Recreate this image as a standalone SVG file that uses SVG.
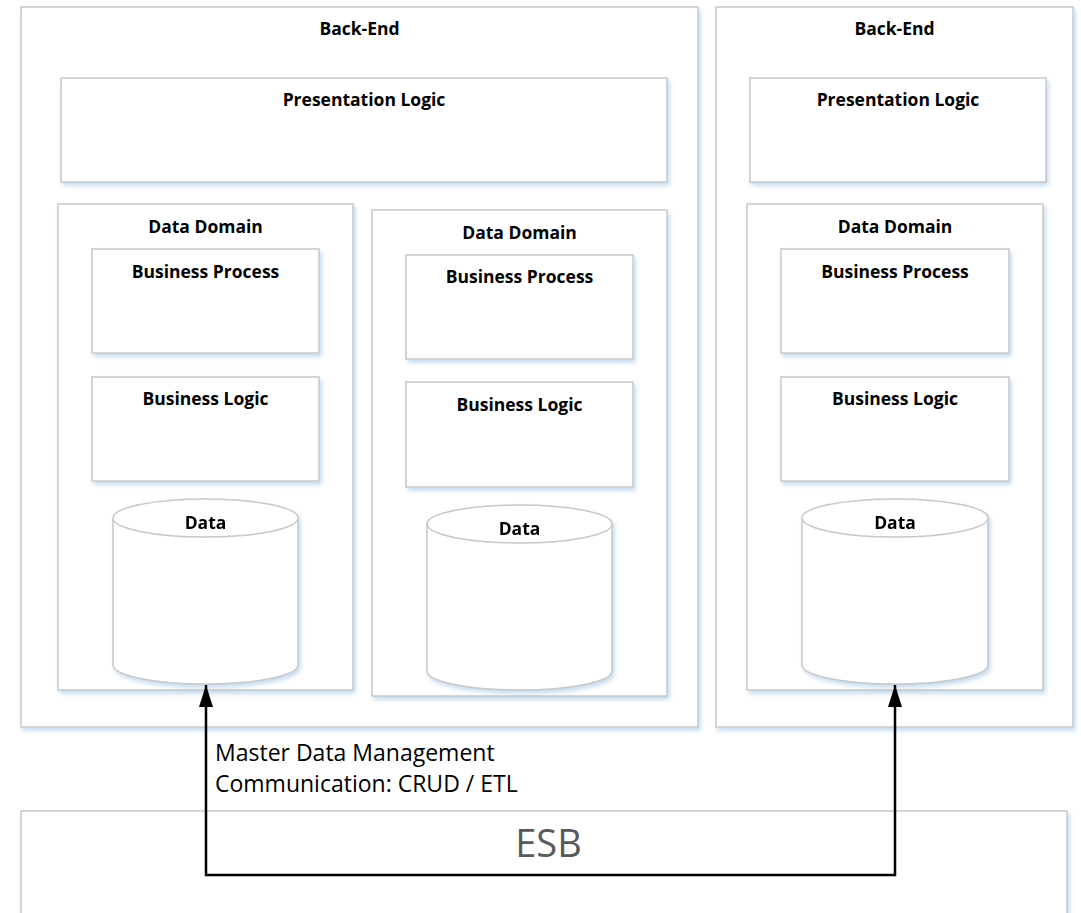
<svg xmlns="http://www.w3.org/2000/svg" width="1081" height="913" viewBox="0 0 1081 913">
  <defs>
    <filter id="shadow" x="-5%" y="-5%" width="115%" height="115%">
      <feDropShadow dx="2" dy="3" stdDeviation="2" flood-color="#5b9bd5" flood-opacity="0.35"/>
    </filter>
    <marker id="arrow" viewBox="0 0 22 14" refX="22" refY="7" markerWidth="22" markerHeight="14" markerUnits="userSpaceOnUse" orient="auto-start-reverse">
      <path d="M0,0 L22,7 L0,14 Z" fill="#000"/>
    </marker>
  </defs>
  <style>
    .box { fill: #fff; stroke: #c8c8c8; stroke-width: 1.5; filter: url(#shadow); }
    .cyl { fill: #fff; stroke: #c8c8c8; stroke-width: 1.5; }
    .lbl { font-family: "Open Sans", "Liberation Sans", sans-serif; font-weight: 700; font-size: 17.5px; fill: #000; text-anchor: middle; }
    .note { font-family: "Open Sans", "Liberation Sans", sans-serif; font-size: 23px; fill: #000; }
    .esb { font-family: "Open Sans", "Liberation Sans", sans-serif; font-size: 38px; fill: #595959; text-anchor: middle; }
    .conn { fill: none; stroke: #000; stroke-width: 2.5; }
  </style>

  <rect width="1081" height="913" fill="#fff"/>

  <!-- Enterprise service bus -->
  <g id="esb">
    <rect class="box" x="21" y="811" width="1046" height="130"/>
    <text class="esb" x="548.5" y="857">ESB</text>
  </g>

  <!-- First back-end: presentation layer over two data domains -->
  <g id="backend-1">
    <rect class="box" x="21" y="7" width="677" height="720"/>
    <text class="lbl" x="359.5" y="35">Back-End</text>
  </g>
  <g id="presentation-1">
    <rect class="box" x="61" y="78" width="606" height="104"/>
    <text class="lbl" x="364" y="106">Presentation Logic</text>
  </g>

  <g id="domain-1">
    <rect class="box" x="58" y="204" width="295" height="486"/>
    <text class="lbl" x="205.5" y="233">Data Domain</text>
  </g>
  <g id="process-1">
    <rect class="box" x="92" y="249" width="227" height="104"/>
    <text class="lbl" x="205.5" y="278">Business Process</text>
  </g>
  <g id="logic-1">
    <rect class="box" x="92" y="377" width="227" height="104"/>
    <text class="lbl" x="205.5" y="405">Business Logic</text>
  </g>
  <g id="data-1" filter="url(#shadow)">
    <path class="cyl" d="M113,518 L113,665 A92.5,19 0 0 0 298,665 L298,518 A92.5,19 0 0 0 113,518 Z"/>
    <path class="cyl" d="M113,518 A92.5,19 0 0 0 298,518" fill="none"/>
    <text class="lbl" x="205.5" y="529">Data</text>
  </g>

  <g id="domain-2">
    <rect class="box" x="372" y="210" width="295" height="486"/>
    <text class="lbl" x="519.5" y="239">Data Domain</text>
  </g>
  <g id="process-2">
    <rect class="box" x="406" y="255" width="227" height="104"/>
    <text class="lbl" x="519.5" y="283">Business Process</text>
  </g>
  <g id="logic-2">
    <rect class="box" x="406" y="382" width="227" height="105"/>
    <text class="lbl" x="519.5" y="411">Business Logic</text>
  </g>
  <g id="data-2" filter="url(#shadow)">
    <path class="cyl" d="M427,524 L427,671 A92.5,19 0 0 0 612,671 L612,524 A92.5,19 0 0 0 427,524 Z"/>
    <path class="cyl" d="M427,524 A92.5,19 0 0 0 612,524" fill="none"/>
    <text class="lbl" x="519.5" y="535">Data</text>
  </g>

  <!-- Second back-end: presentation layer over one data domain -->
  <g id="backend-2">
    <rect class="box" x="716" y="7" width="357" height="720"/>
    <text class="lbl" x="894.5" y="35">Back-End</text>
  </g>
  <g id="presentation-2">
    <rect class="box" x="750" y="78" width="296" height="104"/>
    <text class="lbl" x="898" y="106">Presentation Logic</text>
  </g>
  <g id="domain-3">
    <rect class="box" x="747" y="204" width="296" height="486"/>
    <text class="lbl" x="895" y="233">Data Domain</text>
  </g>
  <g id="process-3">
    <rect class="box" x="781" y="249" width="228" height="104"/>
    <text class="lbl" x="895" y="278">Business Process</text>
  </g>
  <g id="logic-3">
    <rect class="box" x="781" y="377" width="228" height="104"/>
    <text class="lbl" x="895" y="405">Business Logic</text>
  </g>
  <g id="data-3" filter="url(#shadow)">
    <path class="cyl" d="M802,518 L802,665 A93,19 0 0 0 988,665 L988,518 A93,19 0 0 0 802,518 Z"/>
    <path class="cyl" d="M802,518 A93,19 0 0 0 988,518" fill="none"/>
    <text class="lbl" x="895" y="529">Data</text>
  </g>

  <!-- Master data link between the two data stores via the ESB -->
  <g id="connectors">
    <path class="conn" d="M206,685 L206,875 L895,875 L895,685" marker-start="url(#arrow)" marker-end="url(#arrow)"/>
    <text class="note" x="215" y="761">Master Data Management</text>
    <text class="note" x="215" y="792">Communication: CRUD / ETL</text>
  </g>
</svg>
